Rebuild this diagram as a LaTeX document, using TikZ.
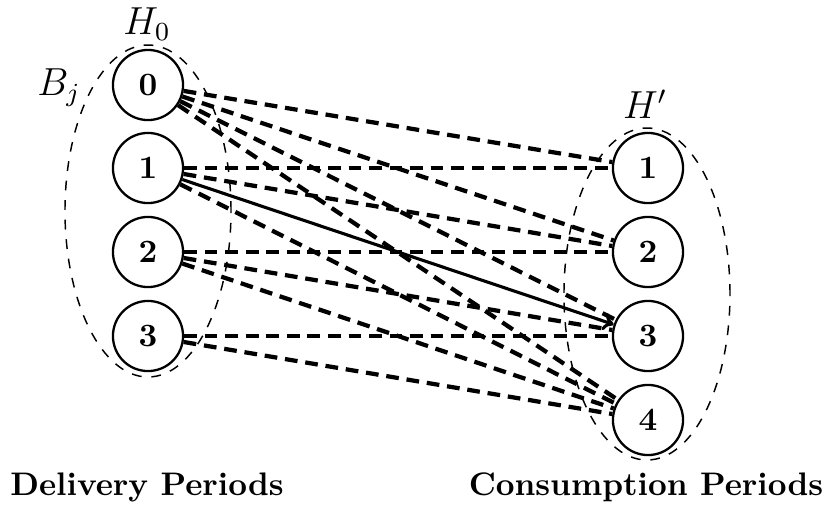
\documentclass[tikz,border=0pt]{standalone}
\usetikzlibrary{arrows.meta}
\begin{document}
\begin{tikzpicture}[x=0.3067pt,y=-0.3067pt,
  period/.style={circle,draw,line width=0.7pt,minimum size=21.5pt,inner sep=0pt,font=\bfseries},
  option/.style={draw,line width=1.3pt,dash pattern=on 3.9pt off 2.4pt},
  chosen/.style={draw,line width=0.95pt,-{To[length=3.2pt,width=5.5pt]}},
  group/.style={draw,dashed,line width=0.45pt},
  caption/.style={font=\bfseries},
  setlabel/.style={font=\large}]
\useasboundingbox (0,0) rectangle (829,518);
% delivery periods
\node[period] (L0) at (148,85) {0};
\node[period] (L1) at (148,168) {1};
\node[period] (L2) at (148,252) {2};
\node[period] (L3) at (148,336) {3};
% consumption periods
\node[period] (R1) at (648,168) {1};
\node[period] (R2) at (648,252) {2};
\node[period] (R3) at (648,336) {3};
\node[period] (R4) at (648,420) {4};
% groups
\coordinate (Lc) at (148,211);
\coordinate (Rc) at (647,294);
\draw[group] (Lc) ellipse [x radius=25.46pt, y radius=50.91pt];
\draw[group] (Rc) ellipse [x radius=25.46pt, y radius=50.91pt];
\node[setlabel] (H0) at (147,24) {$H_0$};
\node[setlabel] (Bj) at (59,88) {$B_j$};
\node[setlabel] (Hp) at (645,104) {$H'$};
% connectors
\foreach \j in {1,...,4} \draw[option] (L0) -- (R\j);
\draw[option] (L1) -- (R1);
\draw[option] (L1) -- (R2);
\draw[option] (L1) -- (R4);
\draw[option] (L2) -- (R2);
\draw[option] (L2) -- (R3);
\draw[option] (L2) -- (R4);
\draw[option] (L3) -- (R3);
\draw[option] (L3) -- (R4);
\draw[chosen] (L1) -- (R3);
% captions
\node[caption] (cd) at (147,487) {Delivery Periods};
\node[caption] (cc) at (646,487) {Consumption Periods};
\end{tikzpicture}
\end{document}
